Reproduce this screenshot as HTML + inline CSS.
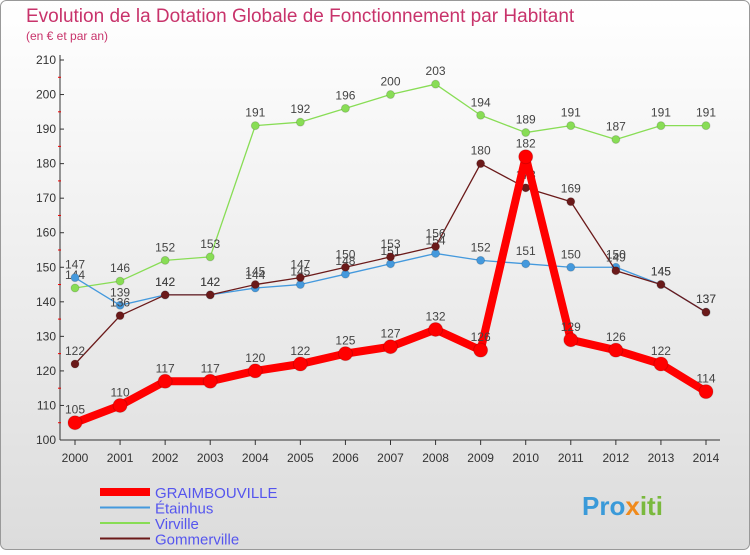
<!DOCTYPE html>
<html><head><meta charset="utf-8"><style>
body{margin:0;width:750px;height:550px;overflow:hidden;font-family:"Liberation Sans",sans-serif}
</style></head><body>
<svg width="750" height="550" xmlns="http://www.w3.org/2000/svg">
<defs><linearGradient id="bg" x1="0" y1="0" x2="0" y2="1"><stop offset="0" stop-color="#ffffff"/><stop offset="1" stop-color="#dcdcdc"/></linearGradient></defs>
<rect x="0.5" y="0.5" width="749" height="549" rx="6" fill="url(#bg)" stroke="#999"/>
<text x="26" y="22" font-size="19" fill="#c8336b">Evolution de la Dotation Globale de Fonctionnement par Habitant</text>
<text x="26" y="40" font-size="12" fill="#c8336b">(en € et par an)</text>
<g id="axes"></g>
<g id="series"></g>
<g id="legend"></g>
<text x="582" y="515" font-size="26" font-weight="bold" fill="#3a9ad9">Pro<tspan fill="#f08a1c">x</tspan><tspan fill="#7ab93d">iti</tspan></text>
</svg>
<script>
const years=[2000,2001,2002,2003,2004,2005,2006,2007,2008,2009,2010,2011,2012,2013,2014];
const yTicks=[100,110,120,130,140,150,160,170,180,190,200,210];
const graimbouville=[105,110,117,117,120,122,125,127,132,126,182,129,126,122,114];
const etainhus=[147,139,142,142,144,145,148,151,154,152,151,150,150,145,137];
const virville=[144,146,152,153,191,192,196,200,203,194,189,191,187,191,191];
const gommerville=[122,136,142,142,145,147,150,153,156,180,173,169,149,145,137];
const NS="http://www.w3.org/2000/svg";
const X=i=>75+i*(706-75)/(years.length-1);
const Y=v=>440-(v-100)*(380/110);
function mk(tag,attrs,parent){const e=document.createElementNS(NS,tag);for(const k in attrs)e.setAttribute(k,attrs[k]);parent.appendChild(e);return e;}
const ax=document.getElementById('axes');
let a=mk('line',{x1:60,y1:55,x2:60,y2:440,stroke:'#333'},ax);


a=mk('line',{x1:60,y1:440,x2:720,y2:440,stroke:'#333'},ax);


yTicks.forEach(t=>{
  const t1=mk('text',{x:56,y:Y(t)+4,'font-size':12,'text-anchor':'end',fill:'#333'},ax);t1.textContent=t;
  
  
  mk('line',{x1:60,y1:Y(t),x2:64,y2:Y(t),stroke:'#333'},ax);
  if(t<210) mk('line',{x1:58,y1:Y(t+5),x2:61,y2:Y(t+5),stroke:'#e00'},ax);
});
years.forEach((yr,i)=>{
  const t=mk('text',{x:X(i),y:462,'font-size':12,'text-anchor':'middle',fill:'#333'},ax);t.textContent=yr;
  
  
  mk('line',{x1:X(i),y1:440,x2:X(i),y2:445,stroke:'#333'},ax);
});
const sg=document.getElementById('series');
function draw(data,color,w,r,name){
  const g=mk('g',{},sg);
  
  
  const p=mk('polyline',{points:data.map((v,i)=>X(i)+','+Y(v)).join(' '),fill:'none',stroke:color,'stroke-width':w,'stroke-linejoin':'round'},g);
  
  
  data.forEach((v,i)=>{
    const c=mk('circle',{cx:X(i),cy:Y(v),r:r,fill:color,stroke:'rgba(0,0,0,0.15)'},g);
    
    
    const t=mk('text',{x:X(i),y:Y(v)-9,'font-size':12,'text-anchor':'middle',fill:'#444'},g);t.textContent=v;
    
    
  });
}
draw(virville,'#88dd55',1.3,4,'virville');
draw(etainhus,'#4499dd',1.3,4,'etainhus');
draw(gommerville,'#6b1a1a',1.3,4,'gommerville');
draw(graimbouville,'#ff0000',8,7,'graimbouville');
const lg=document.getElementById('legend');
const items=[['GRAIMBOUVILLE','#ff0000',8],['Étainhus','#4499dd',2],['Virville','#88dd55',2],['Gommerville','#6b1a1a',2]];
items.forEach((it,i)=>{
  const y=492+i*15.5;
  const l=mk('line',{x1:100,y1:y,x2:150,y2:y,stroke:it[1],'stroke-width':it[2]},lg);
  
  
  const t=mk('text',{x:155,y:y+6,'font-size':15,fill:'#5555ee'},lg);t.textContent=it[0];
  
  
});
</script>
</body></html>
